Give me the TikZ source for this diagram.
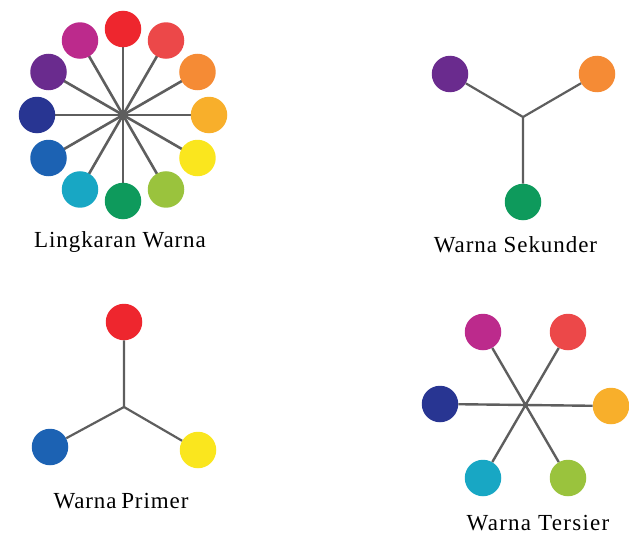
\documentclass[tikz,border=0pt]{standalone}
\usepackage{fontspec}
\usetikzlibrary{backgrounds}
\setmainfont{Liberation Serif}
\newfontfamily\lblfont[LetterSpace=4]{Liberation Serif}
\definecolor{cR}{HTML}{EE262E}
\definecolor{cRO}{HTML}{EC4849}
\definecolor{cO}{HTML}{F58B35}
\definecolor{cYO}{HTML}{F8AF2B}
\definecolor{cY}{HTML}{FAE61E}
\definecolor{cYG}{HTML}{9AC33D}
\definecolor{cG}{HTML}{0E9A5C}
\definecolor{cBG}{HTML}{18A7C4}
\definecolor{cB}{HTML}{1C62B3}
\definecolor{cBV}{HTML}{283592}
\definecolor{cV}{HTML}{6A2B8E}
\definecolor{cRV}{HTML}{BC2A8C}
\definecolor{spoke}{HTML}{5E5E5E}
\tikzset{
  dot/.style={circle, minimum size=36.5pt, inner sep=0pt, fill=#1, draw=none},
  spk/.style={draw=spoke, line width=2.2pt},
  lbl/.style={font=\lblfont\fontsize{23}{27}\selectfont, inner sep=0pt, anchor=base}
}
\begin{document}
\begin{tikzpicture}[x=1pt, y=-1pt]
\useasboundingbox (0,0) rectangle (629,535);

% colour wheel: twelve hues round one hub
\coordinate (w) at (123,115);
\foreach \ang/\col [count=\i] in {90/cR,60/cRO,30/cO,0/cYO,-30/cY,-60/cYG,-90/cG,-120/cBG,-150/cB,180/cBV,150/cV,120/cRV}{
  \path (w) ++(\ang:86pt) node[dot=\col] (wh\i) {};
}
\begin{scope}[on background layer]
  \foreach \i in {1,...,12}{ \draw[spk, line width=2.6pt] (w) -- (wh\i.center); }
\end{scope}
\node[lbl] (lw) at (120,247) {Lingkaran Warna};

% secondary colours
\coordinate (s) at (523,117);
\node[dot=cV] (s1) at (450,74) {};
\node[dot=cO] (s2) at (597,74) {};
\node[dot=cG] (s3) at (523,202) {};
\draw[spk] (s) -- (s1) (s) -- (s2) (s) -- (s3);
\node[lbl] (ls) at (515.5,252) {Warna Sekunder};

% primary colours
\coordinate (p) at (124,407);
\node[dot=cR] (p1) at (124,322) {};
\node[dot=cB] (p2) at (50,447) {};
\node[dot=cY] (p3) at (198,450) {};
\draw[spk] (p) -- (p1) (p) -- (p2) (p) -- (p3);
\node[lbl] (lp) at (121,508) {Warna\hspace{-2pt} Primer};

% tertiary colours
\coordinate (t) at (525,405);
\node[dot=cRV] (t1) at (483,332) {};
\node[dot=cRO] (t2) at (568,332) {};
\node[dot=cBV] (t3) at (440,404) {};
\node[dot=cYO] (t4) at (611,406) {};
\node[dot=cBG] (t5) at (483,478) {};
\node[dot=cYG] (t6) at (568,478) {};
\draw[spk, line width=2.4pt] (t1) -- (t6) (t2) -- (t5) (t3) -- (t4);
\node[lbl, font=\lblfont\fontsize{23}{27}\selectfont\addfontfeature{LetterSpace=5.5}] (lt) at (538,530) {Warna Tersier};
\end{tikzpicture}
\end{document}
